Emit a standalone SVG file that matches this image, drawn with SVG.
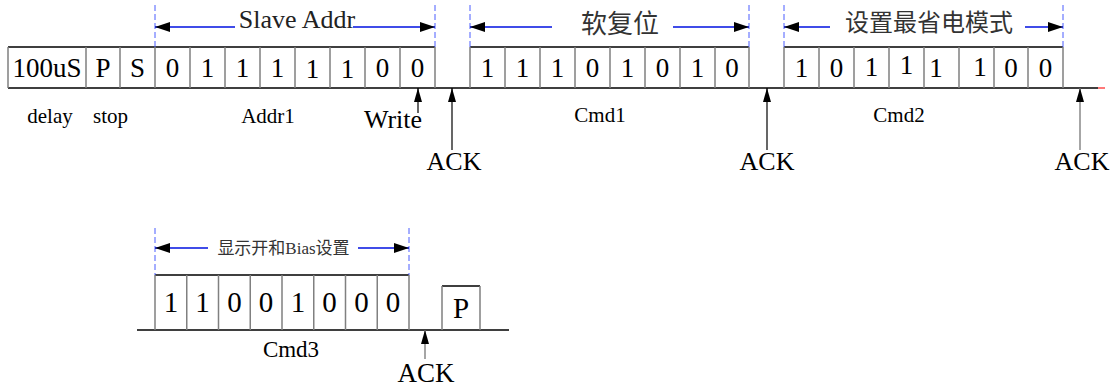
<svg xmlns="http://www.w3.org/2000/svg" width="1113" height="387" viewBox="0 0 1113 387">
<style>
.h{stroke:#000;stroke-width:1.3;fill:none}
.v{stroke:#808080;stroke-width:1.5;fill:none}
.dash{stroke:#4a5cff;stroke-width:1;stroke-dasharray:6 3;fill:none}
.bl{stroke:#0010e0;stroke-width:1.6;fill:none}
.ar{stroke:#000;stroke-width:1.2;fill:none}
.arg{stroke:#808080;stroke-width:1.4;fill:none}
.t{font-family:"Liberation Serif","Times New Roman",serif;fill:#000;text-anchor:middle}
.c{font-family:"Liberation Serif","Noto Sans CJK SC",sans-serif;fill:#333;text-anchor:middle}
.d{font-size:27px}
.d2{font-size:29px}
.l{font-size:21px}
</style>
<defs>
<marker id="mh" viewBox="0 0 15 10" refX="15" refY="5" markerWidth="15" markerHeight="10" markerUnits="userSpaceOnUse" orient="auto">
<path d="M0,0 L15,5 L0,10 z" fill="#000"/>
</marker>
<marker id="mv" viewBox="0 0 14 8" refX="14" refY="4" markerWidth="14" markerHeight="8" markerUnits="userSpaceOnUse" orient="auto">
<path d="M0,0 L14,4 L0,8 z" fill="#000"/>
</marker>
</defs>

<g id="frame-top">
<path class="h" d="M8,47H435M470,47H749M784,47H1063M8,88H1098"/>
<path d="M1098,88H1105" stroke="#ff3030" stroke-width="1.3"/>
<path class="v" d="M8,47V88M86,47V88M120,47V88M155,47V88M190,47V88M225,47V88M260,47V88M295,47V88M330,47V88M365,47V88M400,47V88M435,47V88M470,47V88M505,47V88M540,47V88M575,47V88M610,47V88M645,47V88M680,47V88M715,47V88M749,47V88M784,47V88M819,47V88M854,47V88M889,47V88M924,47V88M959,47V88M994,47V88M1028,47V88M1063,47V88"/>
</g>

<g id="node-delay" class="t">
<text x="47" y="77" class="d">100uS</text>
<text x="50" y="123" class="l">delay</text>
</g>
<g id="node-stop" class="t">
<text x="103" y="77" class="d">P</text>
<text x="137.5" y="77" class="d">S</text>
<text x="110.5" y="123" class="l">stop</text>
</g>
<g id="node-addr1" class="t d">
<text x="172.5" y="77">0</text>
<text x="207.5" y="77">1</text>
<text x="242.5" y="77">1</text>
<text x="277.5" y="77">1</text>
<text x="312.5" y="78">1</text>
<text x="347.5" y="78">1</text>
<text x="382.5" y="77">0</text>
<text x="417.5" y="77">0</text>
<text x="268" y="123" class="l">Addr1</text>
</g>
<g id="node-cmd1" class="t d">
<text x="487.5" y="77">1</text>
<text x="522.5" y="77">1</text>
<text x="557.5" y="77">1</text>
<text x="592.5" y="77">0</text>
<text x="627.5" y="77">1</text>
<text x="662.5" y="77">0</text>
<text x="697.5" y="77">1</text>
<text x="732" y="77">0</text>
<text x="600" y="122" class="l">Cmd1</text>
</g>
<g id="node-cmd2" class="t d">
<text x="801.5" y="77">1</text>
<text x="836.5" y="77">0</text>
<text x="871.5" y="76">1</text>
<text x="906.5" y="74">1</text>
<text x="936" y="77">1</text>
<text x="980" y="76">1</text>
<text x="1011" y="77">0</text>
<text x="1045.5" y="77">0</text>
<text x="899" y="122" class="l">Cmd2</text>
</g>

<g id="labels-top">
<path class="dash" d="M155,5V47M435,5V47M470,5V47M749,5V47M784,5V47M1063,5V47"/>
<text x="297" y="28" class="t" style="font-size:26px;fill:#222">Slave Addr</text>
<text x="620" y="33" class="c" style="font-size:26px">软复位</text>
<text x="929" y="31" class="c" style="font-size:24px">设置最省电模式</text>
</g>

<g id="node-write" class="t">
<text x="393" y="128" style="font-size:26px">Write</text>
</g>
<g id="node-ack" class="t" style="font-size:26px">
<text x="454" y="170">ACK</text>
<text x="767" y="170">ACK</text>
<text x="1082" y="170">ACK</text>
</g>

<g id="frame-bottom">
<path class="h" d="M155,275H409M137,330H509M442,286H480"/>
<path class="v" d="M155,275V330M186.75,275V330M218.5,275V330M250.25,275V330M282,275V330M313.75,275V330M345.5,275V330M377.25,275V330M409,275V330M442,286V330M480,286V330"/>
</g>
<g id="node-cmd3" class="t d2">
<text x="171" y="312">1</text>
<text x="202.5" y="312">1</text>
<text x="234.5" y="312">0</text>
<text x="266" y="312">0</text>
<text x="298" y="312">1</text>
<text x="329.5" y="312">0</text>
<text x="361.5" y="312">0</text>
<text x="393" y="312">0</text>
<text x="291" y="357" style="font-size:23px">Cmd3</text>
</g>
<g id="node-p" class="t d2">
<text x="461" y="318">P</text>
</g>
<g id="labels-bottom">
<path class="dash" d="M155,228V275M409,228V275"/>
<text x="283.5" y="254" class="c" style="font-size:17px">显示开和Bias设置</text>
<text x="426" y="382" class="t" style="font-size:27px">ACK</text>
</g>

<g id="connectors">
<path class="bl" d="M235,27H155" marker-end="url(#mh)"/>
<path class="bl" d="M353,27H435" marker-end="url(#mh)"/>
<path class="bl" d="M552,27H470" marker-end="url(#mh)"/>
<path class="bl" d="M673,27H749" marker-end="url(#mh)"/>
<path class="bl" d="M830,27H784" marker-end="url(#mh)"/>
<path class="bl" d="M1025,27H1063" marker-end="url(#mh)"/>
<path class="bl" d="M208,248H155" marker-end="url(#mh)"/>
<path class="bl" d="M358,248H409" marker-end="url(#mh)"/>
<path class="ar" d="M418,113V88" marker-end="url(#mv)"/>
<path class="ar" d="M452,150V88" marker-end="url(#mv)"/>
<path class="ar" d="M767,150V88" marker-end="url(#mv)"/>
<path class="arg" d="M1080,150V88" marker-end="url(#mv)"/>
<path class="arg" d="M425,359V330" marker-end="url(#mv)"/>
</g>
</svg>
